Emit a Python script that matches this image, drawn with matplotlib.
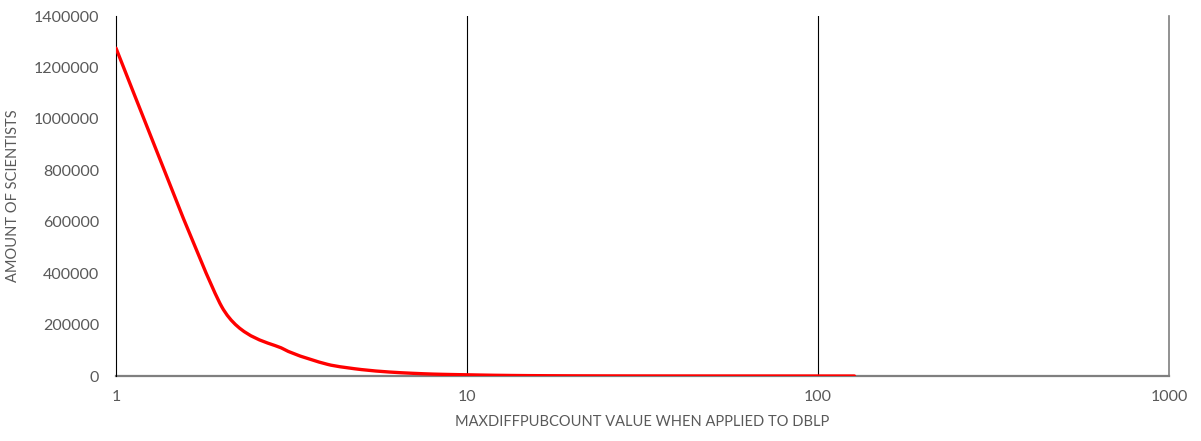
import matplotlib.pyplot as plt
from matplotlib.path import Path
from matplotlib.patches import PathPatch
import numpy as np

plt.rcParams['font.family'] = ['Lato', 'DejaVu Sans']

# scientists per maxDiffPubCount value
diff_value = [1, 2, 3, 4, 5, 6, 7, 8, 9, 10, 12, 15, 20, 30, 50, 80, 127]
scientists = [1275000, 270000, 105000, 45500, 25000, 15500, 10500, 7400, 5800,
              4700, 2800, 1500, 700, 250, 80, 30, 10]

y_ticks = [0, 200000, 400000, 600000, 800000, 1000000, 1200000, 1400000]
x_ticks = [1, 10, 100, 1000]

text_grey = '#595959'


def smooth_path(xs, ys, k=1 / 9.0):
    # cardinal spline segments as cubic Bezier curves in (log x, y) space
    u = np.log10(np.asarray(xs, dtype=float))
    v = np.asarray(ys, dtype=float)
    pts = np.column_stack([u, v])
    verts = [pts[0]]
    codes = [Path.MOVETO]
    n = len(pts)
    for i in range(n - 1):
        p0 = pts[i - 1] if i > 0 else pts[i]
        p1 = pts[i]
        p2 = pts[i + 1]
        p3 = pts[i + 2] if i + 2 < n else pts[i + 1]
        c1 = p1 + (p2 - p0) * k
        c2 = p2 - (p3 - p1) * k
        verts += [c1, c2, p2]
        codes += [Path.CURVE4] * 3
    verts = np.array(verts)
    verts[:, 0] = 10 ** verts[:, 0]
    return Path(verts, codes)


fig = plt.figure(figsize=(12.01, 4.41), dpi=100)
ax = fig.add_axes([116 / 1201, 65 / 441, 1053 / 1201, 360 / 441])

ax.set_xscale('log')
ax.set_xlim(1, 1000)
ax.set_ylim(0, 1400000)

patch = PathPatch(smooth_path(diff_value, scientists), facecolor='none',
                  edgecolor='#FF0000', lw=2.4, capstyle='round',
                  joinstyle='round', zorder=3)
ax.add_patch(patch)

for xv in [10, 100]:
    ax.axvline(xv, color='black', lw=0.8, zorder=1)

ax.spines['top'].set_visible(False)
ax.spines['left'].set_color('black')
ax.spines['left'].set_linewidth(0.8)
ax.spines['right'].set_color('#7f7f7f')
ax.spines['right'].set_linewidth(1.2)
ax.spines['bottom'].set_color('#7f7f7f')
ax.spines['bottom'].set_linewidth(1.6)
ax.spines['bottom'].set_zorder(2)

ax.set_xticks(x_ticks)
ax.set_xticklabels([str(v) for v in x_ticks])
ax.minorticks_off()
ax.set_yticks(y_ticks)
ax.set_yticklabels([str(v) for v in y_ticks])
ax.tick_params(axis='both', length=0, colors=text_grey, labelsize=11.5)
ax.tick_params(axis='y', pad=12)
ax.tick_params(axis='x', pad=10)

ax.set_xlabel('MAXDIFFPUBCOUNT VALUE WHEN APPLIED TO DBLP', color=text_grey,
              fontsize=10.5, labelpad=8)
ax.set_ylabel('AMOUNT OF SCIENTISTS', color=text_grey, fontsize=10.5,
              labelpad=10)

fig.savefig('out.png', dpi=100)
